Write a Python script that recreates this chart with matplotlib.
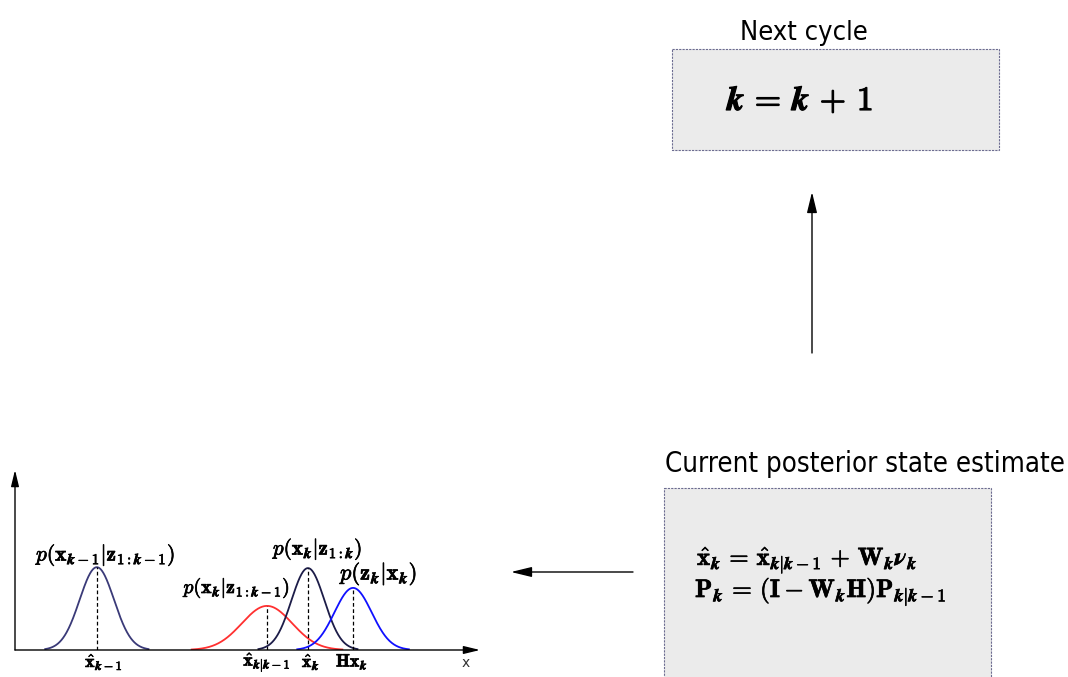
import numpy as np
import matplotlib
matplotlib.use("Agg")
import matplotlib.pyplot as plt
from matplotlib.patches import Rectangle
from matplotlib import font_manager
import matplotlib.patheffects as pe

plt.rcParams["mathtext.fontset"] = "cm"

W, H = 1068, 677

# gaussian densities drawn in the small panel (x in panel units 0..10, height 0..1)
curve_names = ["prev_post", "prior", "posterior", "likelihood"]
curve_means = [1.76, 5.42, 6.30, 7.27]
curve_sigmas = [0.37, 0.54, 0.355, 0.40]
curve_peaks = [0.46, 0.245, 0.455, 0.345]
curve_colors = ["#3a3a78", "#ff3030", "#1c1c48", "#1010ff"]

curve_labels = [r"$p(\mathbf{x}_{\mathbfit{k}-\mathbf{1}}|\mathbf{z}_{\mathbf{1}:\mathbfit{k}-\mathbf{1}})$",
                r"$p(\mathbf{x}_{\mathbfit{k}}|\mathbf{z}_{\mathbf{1}:\mathbfit{k}-\mathbf{1}})$",
                r"$p(\mathbf{x}_{\mathbfit{k}}|\mathbf{z}_{\mathbf{1}:\mathbfit{k}})$",
                r"$p(\mathbf{z}_{\mathbfit{k}}|\mathbf{x}_{\mathbfit{k}})$"]
tick_labels = [r"$\hat{\mathbf{x}}_{\mathbfit{k}-\mathbf{1}}$",
               r"$\hat{\mathbf{x}}_{\mathbfit{k}|\mathbfit{k}-\mathbf{1}}$",
               r"$\hat{\mathbf{x}}_{\mathbfit{k}}$",
               r"$\mathbf{Hx}_{\mathbfit{k}}$"]

# pick a condensed sans if there is one
condensed = any(f.name == "DejaVu Sans" and f.stretch in ("condensed", "semi-condensed")
                for f in font_manager.fontManager.ttflist)
txt_kw = dict(family="DejaVu Sans", fontstretch="condensed" if condensed else "normal")

fig = plt.figure(figsize=(W / 100, H / 100), dpi=100)
ax = fig.add_axes([0, 0, 1, 1])
ax.set_xlim(0, W)
ax.set_ylim(H, 0)
ax.axis("off")
fig.canvas.draw()
renderer = fig.canvas.get_renderer()


def fit_text(a, x, y, s, width, size=16, **kw):
    t = a.text(x, y, s, fontsize=size, **kw)
    w = t.get_window_extent(renderer).width
    t.set_fontsize(size * width / w)
    return t


bold = [pe.withStroke(linewidth=0.9, foreground="black")]
semi = [pe.withStroke(linewidth=0.5, foreground="black")]

# boxes
box_kw = dict(facecolor="#ebebeb", edgecolor="#6c6c90", linewidth=0.8, linestyle=(0, (2, 1)))
ax.add_patch(Rectangle((672, 49), 327, 101, **box_kw))
ax.add_patch(Rectangle((664, 488), 327, 200, **box_kw))

fit_text(ax, 804, 40, "Next cycle", 128, ha="center", va="baseline", **txt_kw)
fit_text(ax, 1065, 472, "Current posterior state estimate", 402, ha="right", va="baseline", **txt_kw)

fit_text(ax, 727, 110, r"$\mathbfit{k}\,=\,\mathbfit{k}\,+\,\mathbf{1}$", 148, ha="left", va="baseline",
         path_effects=bold)
fit_text(ax, 697, 565, r"$\hat{\mathbf{x}}_{\mathbfit{k}}\,=\,\hat{\mathbf{x}}_{\mathbfit{k}|\mathbfit{k}-\mathbf{1}}"
         r"\,+\,\mathbf{W}_{\mathbfit{k}}\mathbfit{\nu}_{\mathbfit{k}}$", 221, ha="left", va="baseline",
         path_effects=semi)
fit_text(ax, 695, 597, r"$\mathbf{P}_{\mathbfit{k}}\,=\,(\mathbf{I} - \mathbf{W}_{\mathbfit{k}}\mathbf{H})"
         r"\mathbf{P}_{\mathbfit{k}|\mathbfit{k}-\mathbf{1}}$", 252, ha="left", va="baseline",
         path_effects=semi)

# arrows between stages
arr = dict(arrowstyle="-|>,head_length=0.7,head_width=0.17", color="black", lw=1.0,
           mutation_scale=18, shrinkA=0, shrinkB=0)
ax.annotate("", xy=(812, 192), xytext=(812, 353), arrowprops=arr)
ax.annotate("", xy=(511, 572), xytext=(633, 572), arrowprops=arr)

# density panel
pax = fig.add_axes([15 / W, 1 - 650 / H, 465 / W, 180 / H])
pax.set_xlim(0, 10)
pax.set_ylim(0, 1)
pax.axis("off")
ax_arr = dict(arrowstyle="-|>,head_length=0.7,head_width=0.17", color="black", lw=1.0,
              mutation_scale=14, shrinkA=0, shrinkB=0)
pax.annotate("", xy=(0, 1), xytext=(0, 0), xycoords="axes fraction", arrowprops=ax_arr)
pax.annotate("", xy=(1, 0), xytext=(0, 0), xycoords="axes fraction", arrowprops=ax_arr)
pax.text(9.7, -0.07, "x", ha="center", va="center", fontsize=10, color="#333333")

for mu, sd, pk, col in zip(curve_means, curve_sigmas, curve_peaks, curve_colors):
    xs = np.linspace(mu - 3 * sd, mu + 3 * sd, 300)
    pax.plot(xs, pk * np.exp(-0.5 * ((xs - mu) / sd) ** 2), color=col, lw=1.3)
    pax.plot([mu, mu], [0, pk], color="black", lw=0.9, ls=(0, (3, 2)))

label_pos = [(106, 555, 140), (237, 588, 107), (318, 549, 90), (379, 574, 78)]
for s, (x, y, w) in zip(curve_labels, label_pos):
    fit_text(ax, x, y, s, w, ha="center", va="center", path_effects=semi)

# tick labels share one size, fitted on the widest
probe = fit_text(ax, 0, 0, tick_labels[1], 47)
tick_size = probe.get_fontsize()
probe.remove()
for s, x in zip(tick_labels, [104, 267, 311, 352]):
    ax.text(x, 662, s, fontsize=tick_size, ha="center", va="center", path_effects=semi)

fig.savefig("out.png", dpi=100)
